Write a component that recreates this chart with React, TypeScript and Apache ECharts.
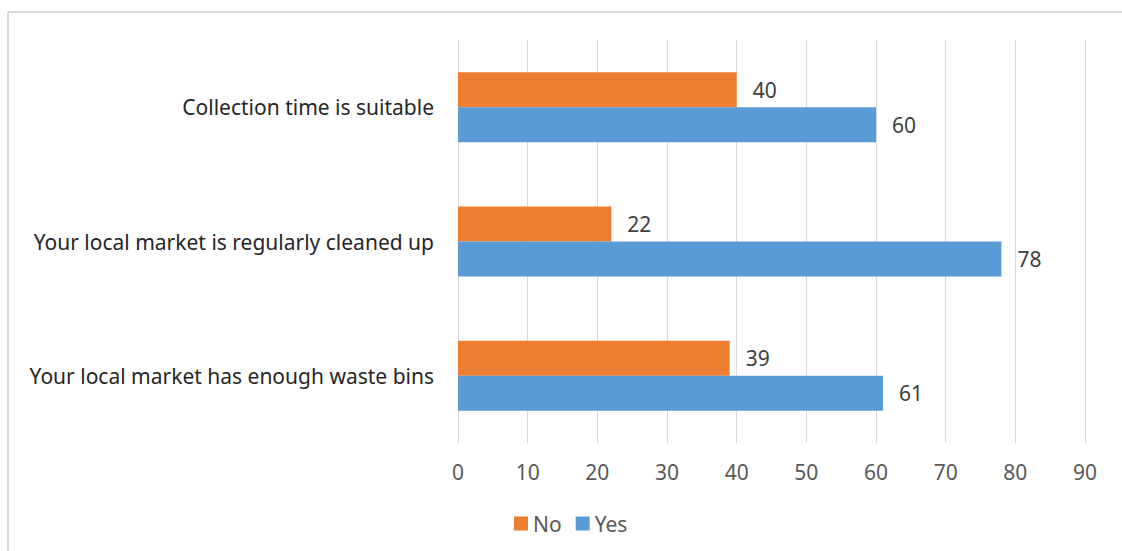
import React, { useEffect, useRef } from "react";
import * as echarts from "echarts";

const categories = [
  "Your local market has enough waste bins",
  "Your local market is regularly cleaned up",
  "Collection time is suitable",
];
const yesValues = [61, 78, 60];
const noValues = [39, 22, 40];
const xTicks = [0, 90, 10];

const FONT = "'Noto Sans', 'Open Sans', sans-serif";

export default function App() {
  const ref = useRef<HTMLDivElement>(null);
  useEffect(() => {
    document.body.style.margin = "0";
    const chart = echarts.init(ref.current!, null, { renderer: "svg" });
    chart.setOption({
      animation: false,
      backgroundColor: "#ffffff",
      textStyle: { fontFamily: FONT },
      graphic: [
        { type: "line", shape: { x1: 8, y1: 12, x2: 1122, y2: 12 }, style: { stroke: "#d9d9d9", lineWidth: 2 } },
        { type: "line", shape: { x1: 8, y1: 12, x2: 8, y2: 551 }, style: { stroke: "#d9d9d9", lineWidth: 2 } },
      ],
      grid: { left: 458, right: 37, top: 40, bottom: 108 },
      legend: {
        data: ["No", "Yes"],
        left: 509,
        top: 508,
        icon: "rect",
        itemWidth: 14,
        itemHeight: 14,
        itemGap: 14,
        textStyle: { fontSize: 21, color: "#595959", fontFamily: FONT },
      },
      xAxis: {
        type: "value",
        min: xTicks[0],
        max: xTicks[1],
        interval: xTicks[2],
        axisLine: { show: false },
        axisTick: { show: false },
        splitLine: { lineStyle: { color: "#d9d9d9", width: 1 } },
        axisLabel: { fontSize: 21, color: "#595959", margin: 18, fontFamily: FONT },
      },
      yAxis: {
        type: "category",
        data: categories,
        axisLine: { show: false },
        axisTick: { show: false },
        axisLabel: { fontSize: 21, color: "#262626", margin: 24, fontFamily: FONT },
      },
      series: [
        {
          name: "No",
          type: "bar",
          data: noValues,
          barWidth: 35,
          barGap: "0%",
          itemStyle: { color: "#ed7d31" },
          label: { show: true, position: "right", distance: 16, fontSize: 21, color: "#404040", fontFamily: FONT },
        },
        {
          name: "Yes",
          type: "bar",
          data: yesValues,
          barWidth: 35,
          barGap: "0%",
          itemStyle: { color: "#5b9bd5" },
          label: { show: true, position: "right", distance: 16, fontSize: 21, color: "#404040", fontFamily: FONT },
        },
      ],
    });
    return () => chart.dispose();
  }, []);
  return <div ref={ref} style={{ width: 1122, height: 551 }} />;
}
